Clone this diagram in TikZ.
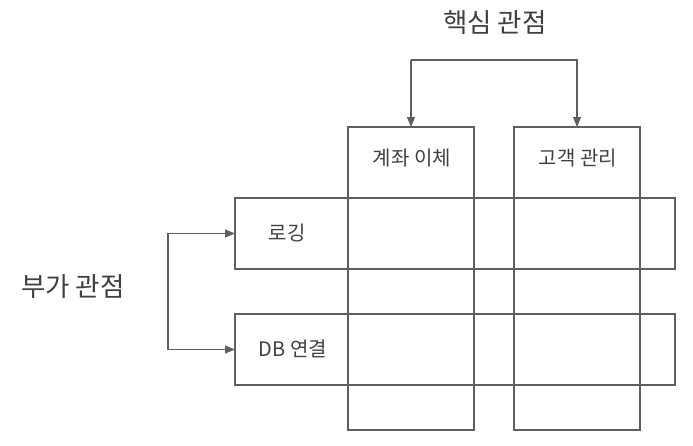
\documentclass[tikz,border=0pt]{standalone}
\usepackage{fontspec}
\setmainfont{Noto Sans CJK KR}
\usetikzlibrary{arrows.meta}
\definecolor{linec}{HTML}{5F5F5F}
\definecolor{textc}{HTML}{404040}
\begin{document}
\begin{tikzpicture}[x=1pt,y=-1pt,
  box/.style={draw=linec,line width=1.1pt,minimum width=#1,inner sep=0pt,outer sep=0pt},
  lab/.style={text=textc,font=\fontsize{20}{22}\selectfont,inner sep=0pt},
  title/.style={text=textc,font=\fontsize{26.5}{28}\selectfont,inner sep=0pt},
  arr/.style={draw=linec,line width=1.1pt,-{Triangle[length=10pt,width=8pt]}}]
\useasboundingbox (0,0) rectangle (693,445);
% columns
\node[box=126pt,minimum height=303pt] (col1) at (411,278.5) {};
\node[box=126pt,minimum height=303pt] (col2) at (577,278.5) {};
% rows
\node[box=440pt,minimum height=71pt] (row1) at (455,233.5) {};
\node[box=440pt,minimum height=71pt] (row2) at (455,349.5) {};
% labels
\node[lab] (l1) at (412,158) {계좌 이체};
\node[lab] (l2) at (578,158) {고객 관리};
\node[lab] (l3) at (287,233) {로깅};
\node[lab] (l4) at (293,349) {DB 연결};
\node[title] (core) at (495,23) {핵심 관점};
\node[title] (aux) at (73,287) {부가 관점};
% connectors
\coordinate (tl) at (411,60);
\coordinate (tr) at (577,60);
\draw[arr] (tl) -- (col1.north);
\draw[arr] (tl) -- (tr) -- (col2.north);
\coordinate (lt) at (168,233.5);
\coordinate (lb) at (168,349.5);
\draw[arr] (lb) -- (lt) -- (row1.west);
\draw[arr] (lt) -- (lb) -- (row2.west);
\end{tikzpicture}
\end{document}
